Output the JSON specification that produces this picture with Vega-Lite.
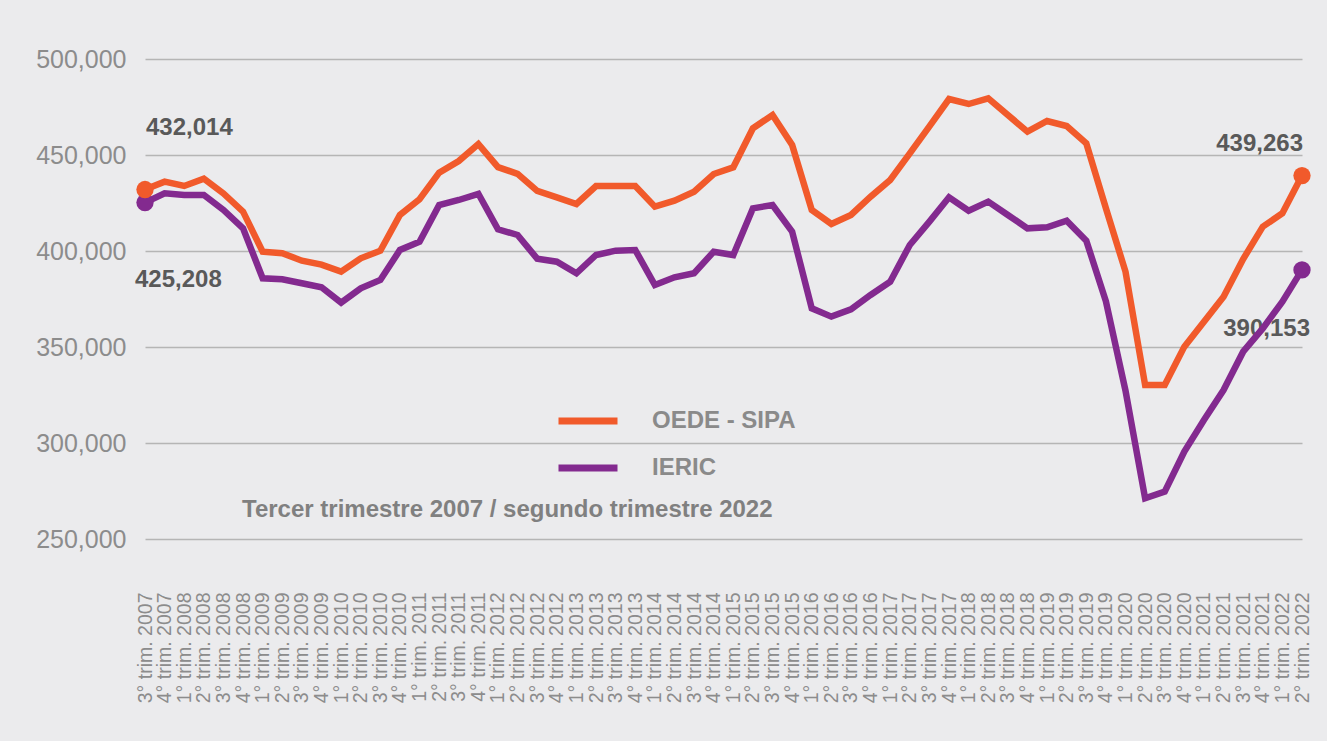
{
  "$schema": "https://vega.github.io/schema/vega-lite/v6.json",
  "width": 1172,
  "height": 480,
  "autosize": "none",
  "padding": {"left": 141, "top": 59, "right": 14, "bottom": 202},
  "background": "#ebebed",
  "config": {"font": "Liberation Sans", "view": {"stroke": null}},
  "data": {
    "values": [
      {"trimestre": "3° trim. 2007", "OEDE - SIPA": 432014, "IERIC": 425208},
      {"trimestre": "4° trim. 2007", "OEDE - SIPA": 436100, "IERIC": 430050},
      {"trimestre": "1° trim. 2008", "OEDE - SIPA": 433860, "IERIC": 429170},
      {"trimestre": "2° trim. 2008", "OEDE - SIPA": 437660, "IERIC": 429170},
      {"trimestre": "3° trim. 2008", "OEDE - SIPA": 430000, "IERIC": 421400},
      {"trimestre": "4° trim. 2008", "OEDE - SIPA": 420480, "IERIC": 411800},
      {"trimestre": "1° trim. 2009", "OEDE - SIPA": 399650, "IERIC": 385780},
      {"trimestre": "2° trim. 2009", "OEDE - SIPA": 398800, "IERIC": 385260},
      {"trimestre": "3° trim. 2009", "OEDE - SIPA": 394960, "IERIC": 383180},
      {"trimestre": "4° trim. 2009", "OEDE - SIPA": 392880, "IERIC": 381100},
      {"trimestre": "1° trim. 2010", "OEDE - SIPA": 389240, "IERIC": 373100},
      {"trimestre": "2° trim. 2010", "OEDE - SIPA": 396200, "IERIC": 380580},
      {"trimestre": "3° trim. 2010", "OEDE - SIPA": 400160, "IERIC": 384900},
      {"trimestre": "4° trim. 2010", "OEDE - SIPA": 418750, "IERIC": 400530},
      {"trimestre": "1° trim. 2011", "OEDE - SIPA": 426930, "IERIC": 404850},
      {"trimestre": "2° trim. 2011", "OEDE - SIPA": 440790, "IERIC": 423960},
      {"trimestre": "3° trim. 2011", "OEDE - SIPA": 446880, "IERIC": 426570},
      {"trimestre": "4° trim. 2011", "OEDE - SIPA": 455700, "IERIC": 429800},
      {"trimestre": "1° trim. 2012", "OEDE - SIPA": 443700, "IERIC": 411300},
      {"trimestre": "2° trim. 2012", "OEDE - SIPA": 440200, "IERIC": 408340},
      {"trimestre": "3° trim. 2012", "OEDE - SIPA": 431300, "IERIC": 396000},
      {"trimestre": "4° trim. 2012", "OEDE - SIPA": 427970, "IERIC": 394440},
      {"trimestre": "1° trim. 2013", "OEDE - SIPA": 424480, "IERIC": 388400},
      {"trimestre": "2° trim. 2013", "OEDE - SIPA": 433860, "IERIC": 397920},
      {"trimestre": "3° trim. 2013", "OEDE - SIPA": 433860, "IERIC": 400160},
      {"trimestre": "4° trim. 2013", "OEDE - SIPA": 433860, "IERIC": 400530},
      {"trimestre": "1° trim. 2014", "OEDE - SIPA": 423100, "IERIC": 382300},
      {"trimestre": "2° trim. 2014", "OEDE - SIPA": 426200, "IERIC": 386300},
      {"trimestre": "3° trim. 2014", "OEDE - SIPA": 430900, "IERIC": 388400},
      {"trimestre": "4° trim. 2014", "OEDE - SIPA": 440100, "IERIC": 399650},
      {"trimestre": "1° trim. 2015", "OEDE - SIPA": 443600, "IERIC": 397920},
      {"trimestre": "2° trim. 2015", "OEDE - SIPA": 463900, "IERIC": 422240},
      {"trimestre": "3° trim. 2015", "OEDE - SIPA": 470840, "IERIC": 423960},
      {"trimestre": "4° trim. 2015", "OEDE - SIPA": 455210, "IERIC": 410060},
      {"trimestre": "1° trim. 2016", "OEDE - SIPA": 421360, "IERIC": 370160},
      {"trimestre": "2° trim. 2016", "OEDE - SIPA": 414070, "IERIC": 365820},
      {"trimestre": "3° trim. 2016", "OEDE - SIPA": 418760, "IERIC": 369640},
      {"trimestre": "4° trim. 2016", "OEDE - SIPA": 428290, "IERIC": 377090},
      {"trimestre": "1° trim. 2017", "OEDE - SIPA": 436980, "IERIC": 384030},
      {"trimestre": "2° trim. 2017", "OEDE - SIPA": 450880, "IERIC": 403130},
      {"trimestre": "3° trim. 2017", "OEDE - SIPA": 464950, "IERIC": 415290},
      {"trimestre": "4° trim. 2017", "OEDE - SIPA": 479170, "IERIC": 427970},
      {"trimestre": "1° trim. 2018", "OEDE - SIPA": 476560, "IERIC": 421010},
      {"trimestre": "2° trim. 2018", "OEDE - SIPA": 479520, "IERIC": 425700},
      {"trimestre": "3° trim. 2018", "OEDE - SIPA": 470840, "IERIC": 418760},
      {"trimestre": "4° trim. 2018", "OEDE - SIPA": 462150, "IERIC": 411800},
      {"trimestre": "1° trim. 2019", "OEDE - SIPA": 467710, "IERIC": 412330},
      {"trimestre": "2° trim. 2019", "OEDE - SIPA": 465100, "IERIC": 415800},
      {"trimestre": "3° trim. 2019", "OEDE - SIPA": 456100, "IERIC": 405380},
      {"trimestre": "4° trim. 2019", "OEDE - SIPA": 422240, "IERIC": 373800},
      {"trimestre": "1° trim. 2020", "OEDE - SIPA": 389240, "IERIC": 327240},
      {"trimestre": "2° trim. 2020", "OEDE - SIPA": 330210, "IERIC": 271200},
      {"trimestre": "3° trim. 2020", "OEDE - SIPA": 330210, "IERIC": 274670},
      {"trimestre": "4° trim. 2020", "OEDE - SIPA": 350190, "IERIC": 295500},
      {"trimestre": "1° trim. 2021", "OEDE - SIPA": 363200, "IERIC": 311980},
      {"trimestre": "2° trim. 2021", "OEDE - SIPA": 376200, "IERIC": 327600},
      {"trimestre": "3° trim. 2021", "OEDE - SIPA": 395800, "IERIC": 347570},
      {"trimestre": "4° trim. 2021", "OEDE - SIPA": 412670, "IERIC": 359700},
      {"trimestre": "1° trim. 2022", "OEDE - SIPA": 419630, "IERIC": 373610},
      {"trimestre": "2° trim. 2022", "OEDE - SIPA": 439263, "IERIC": 390153}
    ]
  },
  "transform": [{"fold": ["IERIC", "OEDE - SIPA"], "as": ["serie", "valor"]}],
  "encoding": {
    "x": {
      "field": "trimestre",
      "type": "ordinal",
      "sort": null,
      "scale": {"type": "point", "range": [4, 1161], "padding": 0},
      "axis": {
        "title": null,
        "labelAngle": -90,
        "labelFontSize": 19.5,
        "labelColor": "#8c8c8c",
        "labelPadding": 53,
        "ticks": false,
        "domain": false,
        "grid": false,
        "labelBound": false,
        "labelOverlap": false
      }
    },
    "y": {
      "field": "valor",
      "type": "quantitative",
      "scale": {"domain": [250000, 500000], "nice": false, "zero": false},
      "axis": {
        "title": null,
        "values": [250000, 300000, 350000, 400000, 450000, 500000],
        "format": ",.0f",
        "labelFontSize": 25,
        "labelColor": "#8c8c8c",
        "labelPadding": 15,
        "ticks": false,
        "domain": false,
        "gridColor": "#b5b5b5",
        "gridWidth": 1.5
      }
    }
  },
  "layer": [
    {
      "mark": {"type": "text", "align": "left", "baseline": "middle", "dx": 1, "dy": -62, "fontSize": 24, "fontWeight": "bold", "color": "#595959"},
      "encoding": {"text": {"condition": {"test": "datum.trimestre == '3° trim. 2007' && datum.serie == 'OEDE - SIPA'", "field": "valor", "type": "quantitative", "format": ","}, "value": ""}}
    },
    {
      "mark": {"type": "text", "align": "left", "baseline": "middle", "dx": -10, "dy": 77, "fontSize": 24, "fontWeight": "bold", "color": "#595959"},
      "encoding": {"text": {"condition": {"test": "datum.trimestre == '3° trim. 2007' && datum.serie == 'IERIC'", "field": "valor", "type": "quantitative", "format": ","}, "value": ""}}
    },
    {
      "mark": {"type": "text", "align": "right", "baseline": "middle", "dx": 1, "dy": -32, "fontSize": 24, "fontWeight": "bold", "color": "#595959"},
      "encoding": {"text": {"condition": {"test": "datum.trimestre == '2° trim. 2022' && datum.serie == 'OEDE - SIPA'", "field": "valor", "type": "quantitative", "format": ","}, "value": ""}}
    },
    {
      "mark": {"type": "text", "align": "right", "baseline": "middle", "dx": 8, "dy": 59, "fontSize": 24, "fontWeight": "bold", "color": "#595959"},
      "encoding": {"text": {"condition": {"test": "datum.trimestre == '2° trim. 2022' && datum.serie == 'IERIC'", "field": "valor", "type": "quantitative", "format": ","}, "value": ""}}
    },
    {
      "mark": {"type": "text", "align": "left", "baseline": "middle", "dx": -1, "dy": 282, "fontSize": 24, "fontWeight": "bold", "color": "#808080"},
      "encoding": {"text": {"condition": {"test": "datum.trimestre == '4° trim. 2008' && datum.serie == 'IERIC'", "value": "Tercer trimestre 2007 / segundo trimestre 2022"}, "value": ""}}
    },
    {
      "mark": {"type": "line", "strokeWidth": 6.5, "strokeJoin": "miter"},
      "encoding": {
        "color": {
          "field": "serie",
          "type": "nominal",
          "scale": {"domain": ["OEDE - SIPA", "IERIC"], "range": ["#f15a2b", "#832a8f"]},
          "legend": {
            "orient": "none",
            "legendX": 414,
            "legendY": 329,
            "title": null,
            "symbolType": "stroke",
            "symbolSize": 3481,
            "symbolStrokeWidth": 7,
            "labelFontSize": 24,
            "labelFontWeight": "bold",
            "labelColor": "#8a8a8a",
            "labelOffset": 31,
            "rowPadding": -9,
            "padding": 0
          }
        }
      }
    },
    {
      "mark": {"type": "circle", "size": 300},
      "encoding": {
        "color": {"field": "serie", "type": "nominal", "scale": {"domain": ["OEDE - SIPA", "IERIC"], "range": ["#f15a2b", "#832a8f"]}, "legend": null},
        "opacity": {"condition": {"test": "datum.trimestre == '3° trim. 2007' || datum.trimestre == '2° trim. 2022'", "value": 1}, "value": 0}
      }
    }
  ]
}
